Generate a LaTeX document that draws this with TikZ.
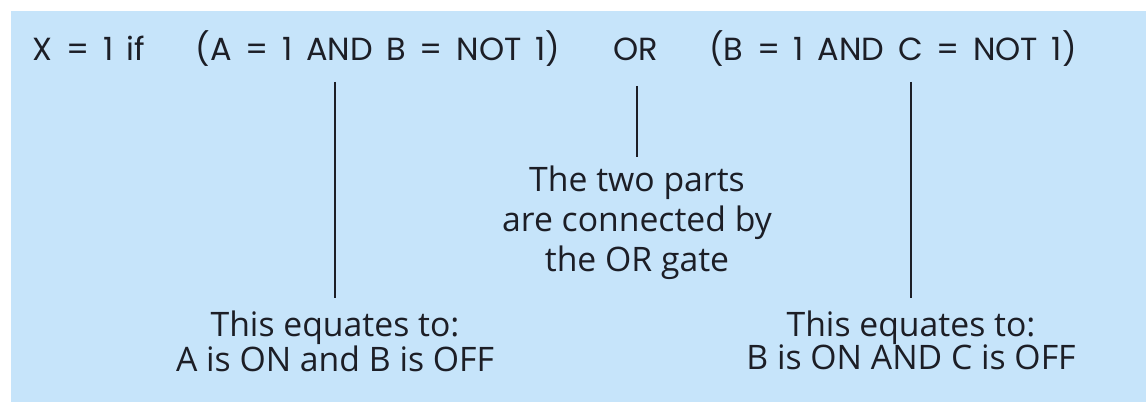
\documentclass[tikz,border=0pt]{standalone}
\usepackage{fontspec}
\setmainfont{Open Sans}
\newfontfamily\exprfont[WordSpace=1.6]{Poppins}
\usepackage{tikz}
\usetikzlibrary{positioning}

\definecolor{panelblue}{RGB}{198,228,250}
\definecolor{ink}{RGB}{28,30,38}

\tikzset{
  expr/.style={inner sep=0pt, text=ink, text depth=0.25em,
    font=\exprfont\fontsize{24}{28}\selectfont},
  note/.style={inner sep=0pt, text=ink, align=center,
    font=\fontsize{25.3}{24.75}\selectfont},
  tie/.style={draw=ink, line width=1.3pt}
}

\begin{document}
\begin{tikzpicture}[x=0.75pt,y=0.75pt,yscale=-1,xscale=1]
        \useasboundingbox (0,0) rectangle (1146,402);
        \fill[white] (0,0) rectangle (1146,402);
        \fill[panelblue] (11,11) rectangle (1146,402);

        % top line
        \node[expr, anchor=base] (cond) at (89,61) {X = 1 if};
        \node[expr, anchor=base] (lhsA) at (378,61) {(A = 1 AND B = NOT 1)};
        \node[expr, anchor=base] (gateOR) at (636,61) {OR};
        \node[expr, anchor=base] (rhsB) at (893,61) {(B = 1 AND C = NOT 1)};

        % notes
        \node[note, anchor=north, font=\fontsize{25.3}{30}\selectfont] (orNote) at (637,166) {The two parts\\are connected by\\the OR gate};
        \node[note, anchor=north] (eqA) at (335,311) {This equates to:\\A is ON and B is OFF};
        \node[note, anchor=north] (eqB) at (911,311) {This equates to:\\B is ON AND C is OFF};

        % ties
        \draw[tie, shorten <=13pt, shorten >=10pt] (lhsA.south -| eqA.north) -- (eqA.north);
        \draw[tie, shorten <=16pt, shorten >=7pt] (gateOR.south -| orNote.north) -- (orNote.north);
        \draw[tie, shorten <=13pt, shorten >=10pt] (rhsB.south -| eqB.north) -- (eqB.north);
\end{tikzpicture}
\end{document}
